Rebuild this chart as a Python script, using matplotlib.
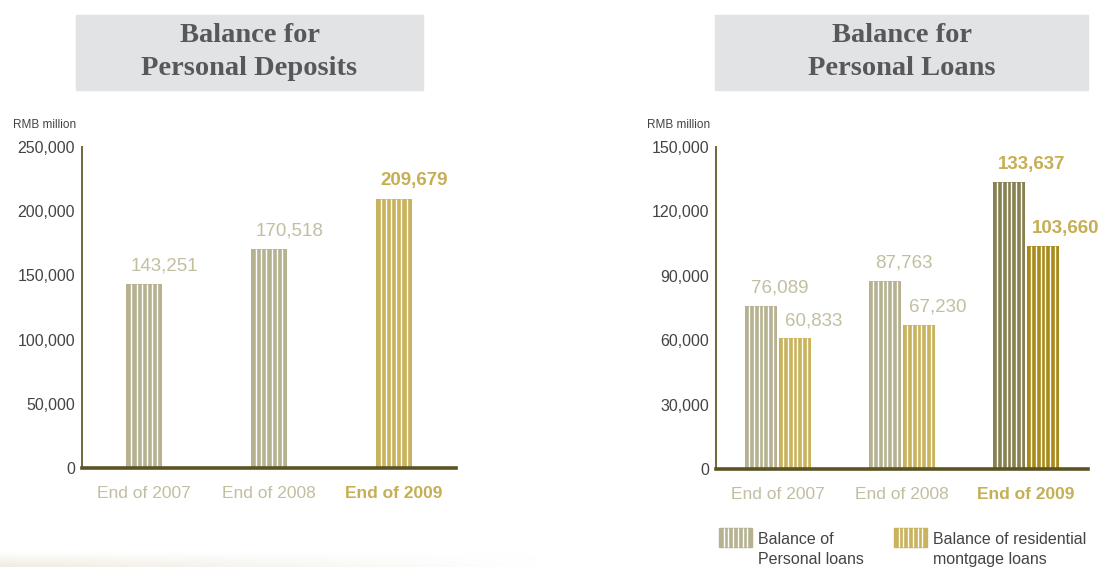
import matplotlib.pyplot as plt
from matplotlib.patches import Rectangle
from matplotlib.colors import LinearSegmentedColormap
from matplotlib.ticker import FuncFormatter
import numpy as np

plt.rcParams['font.family'] = ['Liberation Sans', 'DejaVu Sans']

periods = ['End of 2007', 'End of 2008', 'End of 2009']
deposits = [143251, 170518, 209679]
personal_loans = [76089, 87763, 133637]
mortgage_loans = [60833, 67230, 103660]

deposit_ticks = [0, 50000, 100000, 150000, 200000, 250000]
loan_ticks = [0, 30000, 60000, 90000, 120000, 150000]

PALE = '#b6b291'
GOLD = '#c9b35c'
DARK_OLIVE = '#878152'
DARK_GOLD = '#a98b1c'
LABEL_PALE = '#c2bea0'
LABEL_GOLD = '#c6ae55'
AXIS = '#5b5324'
TEXT = '#444444'


def stripe(ax, bars, n=6):
    # thin white vertical lines across each bar
    for b in bars:
        x0, w, h = b.get_x(), b.get_width(), b.get_height()
        xs = x0 + w * np.arange(1, n + 1) / (n + 1)
        ax.vlines(xs, 0, h, colors='white', linewidth=1.0, zorder=3)


def style_axes(ax, ticks):
    ax.set_xlim(-0.5, 2.5)
    ax.set_ylim(0, ticks[-1])
    ax.set_yticks(ticks)
    ax.yaxis.set_major_formatter(FuncFormatter(lambda v, p: f'{int(v):,}'))
    ax.tick_params(axis='y', length=0, pad=5, labelsize=11.5, labelcolor=TEXT)
    ax.tick_params(axis='x', length=0, pad=13, labelsize=12.5)
    ax.set_xticks(range(len(periods)))
    ax.set_xticklabels(periods)
    for i, lab in enumerate(ax.get_xticklabels()):
        if i == 2:
            lab.set_color(LABEL_GOLD)
            lab.set_fontweight('bold')
        else:
            lab.set_color(LABEL_PALE)
    for s in ['top', 'right']:
        ax.spines[s].set_visible(False)
    ax.spines['left'].set_color('#6e6838')
    ax.spines['left'].set_linewidth(1.4)
    ax.spines['bottom'].set_color(AXIS)
    ax.spines['bottom'].set_linewidth(2.6)
    ax.spines['bottom'].set_zorder(5)
    ax.text(-0.017, 1.05, 'RMB million', transform=ax.transAxes, ha='right',
            va='bottom', fontsize=8.5, color=TEXT)


fig = plt.figure(figsize=(11.03, 5.67), dpi=100)

# soft warm shadow along the bottom left edge
warm = LinearSegmentedColormap.from_list('warm', ['#ffffff', '#efebe0'])
gx = np.linspace(1, 0, 256)
gy = np.linspace(0, 1, 32)[:, None]
shade = fig.add_axes([0, 0, 0.49, 0.026])
shade.imshow(gx[None, :] * gy, aspect='auto', cmap=warm, vmin=0, vmax=1, origin='upper')
shade.axis('off')

# title boxes
for x0, x1, title in [(76, 423, 'Balance for\nPersonal Deposits'),
                      (715, 1088, 'Balance for\nPersonal Loans')]:
    fig.patches.append(Rectangle((x0 / 1103, 1 - 90 / 567), (x1 - x0) / 1103, 75 / 567,
                                 transform=fig.transFigure, color='#e2e3e5', zorder=0))
    fig.text((x0 + x1) / 2 / 1103, 1 - 52 / 567, title, ha='center', va='center',
             fontsize=20.5, fontweight='bold', family='Liberation Serif',
             color='#58585a', linespacing=1.42)

# personal deposits
ax1 = fig.add_axes([82 / 1103, 1 - 468 / 567, 374 / 1103, 321 / 567])
x = np.arange(len(periods))
colors1 = [PALE, PALE, GOLD]
bars1 = ax1.bar(x, deposits, width=0.29, color=colors1, zorder=2)
stripe(ax1, bars1)
for i, v in enumerate(deposits):
    bold = i == 2
    ax1.text(x[i] + 0.165, v + 7500, f'{v:,}', ha='center', va='bottom',
             fontsize=13.5, color=LABEL_GOLD if bold else LABEL_PALE,
             fontweight='bold' if bold else 'normal')
style_axes(ax1, deposit_ticks)

# personal loans
ax2 = fig.add_axes([716 / 1103, 1 - 469 / 567, 372 / 1103, 322 / 567])
w = 0.26
off = 0.137
bars_p = ax2.bar(x - off, personal_loans, width=w, color=[PALE, PALE, DARK_OLIVE], zorder=2)
bars_m = ax2.bar(x + off, mortgage_loans, width=w, color=[GOLD, GOLD, DARK_GOLD], zorder=2)
stripe(ax2, bars_p)
stripe(ax2, bars_m)
for i in range(len(periods)):
    bold = i == 2
    c = LABEL_GOLD if bold else LABEL_PALE
    fw = 'bold' if bold else 'normal'
    shift = 0.185 if bold else 0.15
    ax2.text(x[i] - off + shift, personal_loans[i] + 4200, f'{personal_loans[i]:,}',
             ha='center', va='bottom', fontsize=13.5, color=c, fontweight=fw)
    ax2.text(x[i] + off + shift, mortgage_loans[i] + 4200, f'{mortgage_loans[i]:,}',
             ha='center', va='bottom', fontsize=13.5, color=c, fontweight=fw)
style_axes(ax2, loan_ticks)

# legend with striped swatches
leg = fig.add_axes([0, 0, 1, 1], zorder=-1)
leg.set_xlim(0, 1103)
leg.set_ylim(567, 0)
leg.axis('off')
for x0, col, label in [(719, PALE, 'Balance of\nPersonal loans'),
                       (894, GOLD, 'Balance of residential\nmontgage loans')]:
    leg.add_patch(Rectangle((x0, 528), 33, 19, color=col))
    leg.vlines(x0 + 33 * np.arange(1, 7) / 7, 528, 547, colors='white', linewidth=1.0)
    leg.text(x0 + 39, 532, label, ha='left', va='top', fontsize=11.5, color=TEXT,
             linespacing=1.45)

fig.savefig('out.png', dpi=100)
